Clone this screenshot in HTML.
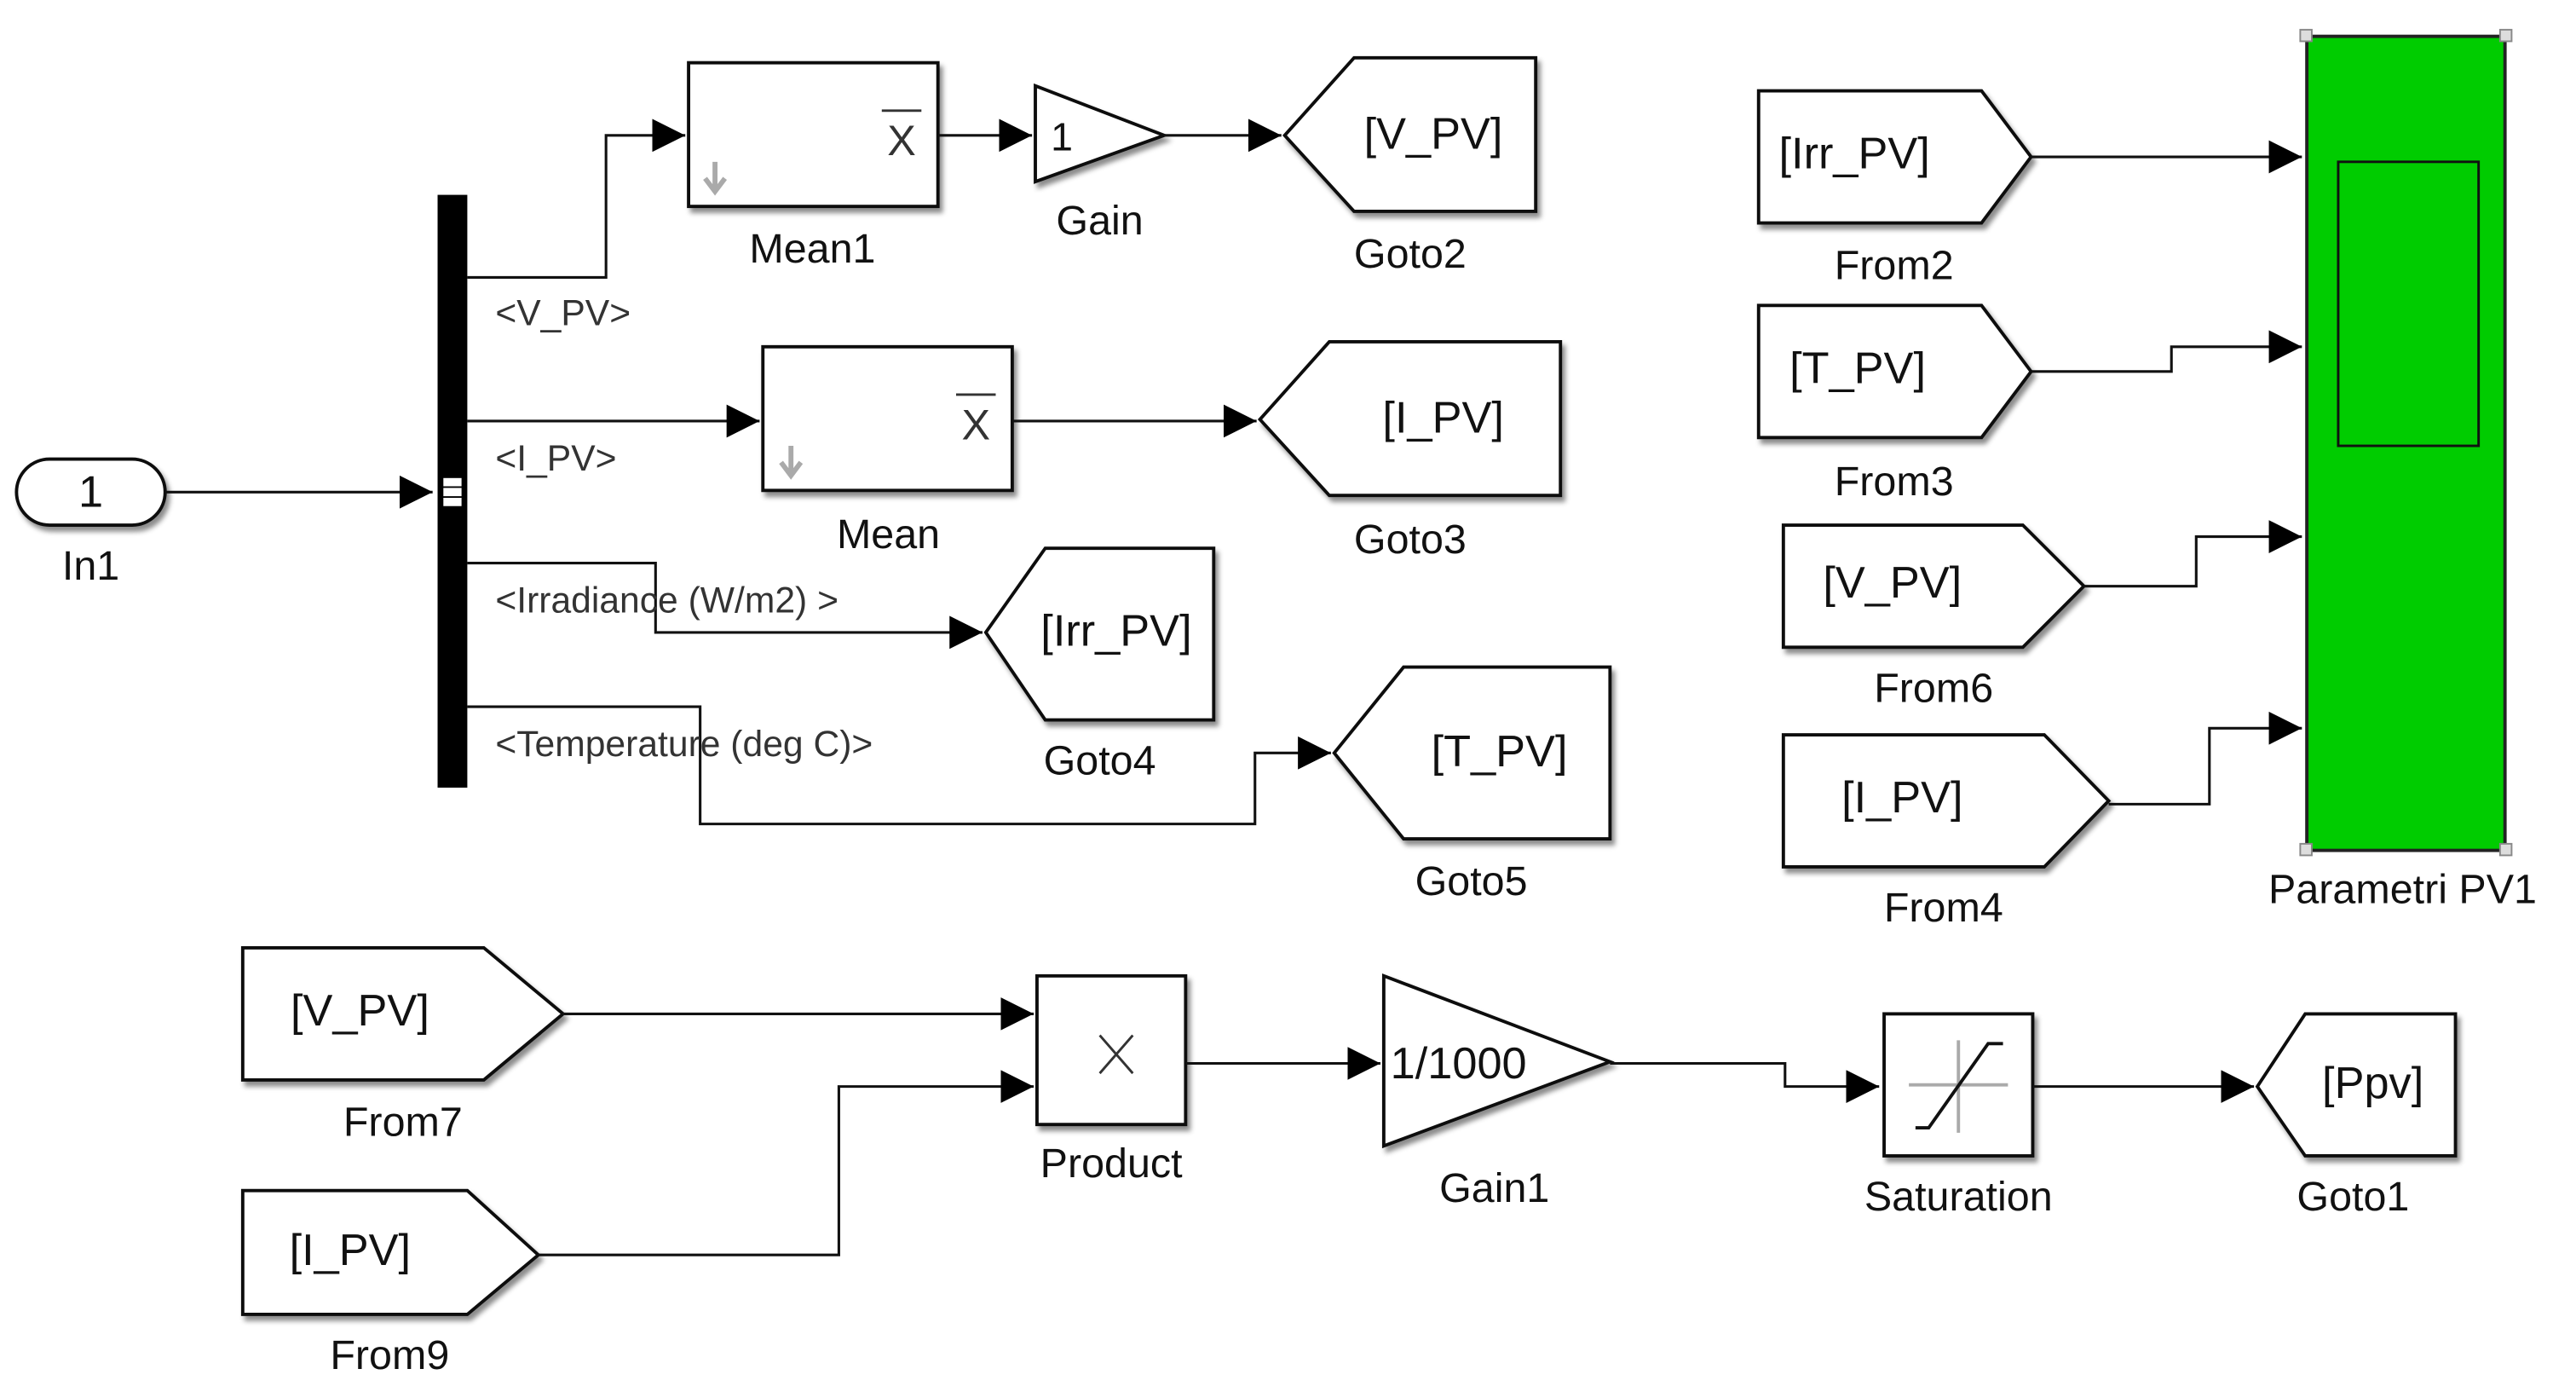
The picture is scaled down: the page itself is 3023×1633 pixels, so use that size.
<!DOCTYPE html>
<html><head><style>
html,body{margin:0;padding:0;background:#fff;}
svg{display:block;}
text{font-family:"Liberation Sans",Arial,sans-serif;fill:#111;}
.l{font-size:25px;text-anchor:middle;}
.b{font-size:27px;text-anchor:middle;}
.s{font-size:22px;fill:#333;}
.blk{fill:#fff;stroke:#111;stroke-width:2;filter:url(#sh);}
.w{fill:none;stroke:#111;stroke-width:1.6;}
</style></head><body>
<svg width="3023" height="1633" viewBox="0 0 1560 843" preserveAspectRatio="none" xmlns="http://www.w3.org/2000/svg">
<defs>
<filter id="sh" x="-10%" y="-10%" width="130%" height="130%"><feDropShadow dx="2" dy="3" stdDeviation="1.5" flood-color="#000" flood-opacity="0.45"/></filter>
<marker id="a" viewBox="0 0 10 10" refX="10" refY="5" markerWidth="20" markerHeight="20" markerUnits="userSpaceOnUse" orient="auto"><path d="M0,0 L10,5 L0,10 z" fill="#000"/></marker>
</defs>

<rect x="10" y="278" width="90" height="40" rx="20" class="blk"/>
<text x="55" y="307" class="b">1</text>
<text x="55" y="351" class="l">In1</text>
<path d="M100,298 H262" class="w" marker-end="url(#a)"/>

<rect x="265" y="118" width="18" height="359" fill="#000"/>
<rect x="268" y="289" width="12" height="18" fill="#fff" stroke="#000" stroke-width="1"/>
<path d="M268,295 H280 M268,301 H280" stroke="#000" stroke-width="1"/>

<path d="M283,168 H367 V82 H415" class="w" marker-end="url(#a)"/>
<text x="300" y="197" class="s">&lt;V_PV&gt;</text>
<rect x="417" y="38" width="151" height="87" class="blk"/>
<text x="546" y="94" class="b" style="font-size:26px;fill:#333">X</text>
<path d="M534,67 H558" stroke="#333" stroke-width="1.5"/>
<path d="M433,98 V114 M427,108 L433,116 L439,108" stroke="#aaa" stroke-width="3" fill="none"/>
<text x="492" y="159" class="l">Mean1</text>
<path d="M568,82 H625" class="w" marker-end="url(#a)"/>
<path d="M627,52 L705,82 L627,110 Z" class="blk"/>
<text x="643" y="91" class="b" style="font-size:24px">1</text>
<text x="666" y="142" class="l">Gain</text>
<path d="M705,82 H776" class="w" marker-end="url(#a)"/>
<path d="M778,82 L820,35 H930 V128 H820 Z" class="blk"/>
<text x="868" y="90" class="b">[V_PV]</text>
<text x="854" y="162" class="l">Goto2</text>

<path d="M283,255 H460" class="w" marker-end="url(#a)"/>
<text x="300" y="285" class="s">&lt;I_PV&gt;</text>
<rect x="462" y="210" width="151" height="87" class="blk"/>
<text x="591" y="266" class="b" style="font-size:26px;fill:#333">X</text>
<path d="M579,239 H603" stroke="#333" stroke-width="1.5"/>
<path d="M479,270 V286 M473,280 L479,288 L485,280" stroke="#aaa" stroke-width="3" fill="none"/>
<text x="538" y="332" class="l">Mean</text>
<path d="M613,255 H761" class="w" marker-end="url(#a)"/>
<path d="M763,254 L805,207 H945 V300 H805 Z" class="blk"/>
<text x="874" y="262" class="b">[I_PV]</text>
<text x="854" y="335" class="l">Goto3</text>

<path d="M283,341 H397 V383 H595" class="w" marker-end="url(#a)"/>
<text x="300" y="371" class="s">&lt;Irradiance (W/m2) &gt;</text>
<path d="M597,383 L633,332 H735 V436 H633 Z" class="blk"/>
<text x="676" y="391" class="b">[Irr_PV]</text>
<text x="666" y="469" class="l">Goto4</text>

<path d="M283,428 H424 V499 H760 V456 H806" class="w" marker-end="url(#a)"/>
<text x="300" y="458" class="s">&lt;Temperature (deg C)&gt;</text>
<path d="M808,456 L850,404 H975 V508 H850 Z" class="blk"/>
<text x="908" y="464" class="b">[T_PV]</text>
<text x="891" y="542" class="l">Goto5</text>

<path d="M1065,55 H1200 L1230,95 L1200,135 H1065 Z" class="blk"/>
<text x="1123" y="102" class="b">[Irr_PV]</text>
<text x="1147" y="169" class="l">From2</text>
<path d="M1230,95 H1394" class="w" marker-end="url(#a)"/>

<path d="M1065,185 H1200 L1230,225 L1200,265 H1065 Z" class="blk"/>
<text x="1125" y="232" class="b">[T_PV]</text>
<text x="1147" y="300" class="l">From3</text>
<path d="M1230,225 H1315 V210 H1394" class="w" marker-end="url(#a)"/>

<path d="M1080,318 H1225 L1262,355 L1225,392 H1080 Z" class="blk"/>
<text x="1146" y="362" class="b">[V_PV]</text>
<text x="1171" y="425" class="l">From6</text>
<path d="M1262,355 H1330 V325 H1394" class="w" marker-end="url(#a)"/>

<path d="M1080,445 H1238 L1277,485 L1238,525 H1080 Z" class="blk"/>
<text x="1152" y="492" class="b">[I_PV]</text>
<text x="1177" y="558" class="l">From4</text>
<path d="M1277,487 H1338 V441 H1394" class="w" marker-end="url(#a)"/>

<rect x="1397" y="22" width="120" height="493" fill="#00cc00" stroke="#222" stroke-width="2"/>
<rect x="1416" y="98" width="85" height="172" fill="none" stroke="#111" stroke-width="1.5"/>
<g fill="#ddd" stroke="#888" stroke-width="1"><rect x="1393" y="18" width="7" height="7"/><rect x="1514" y="18" width="7" height="7"/><rect x="1393" y="511" width="7" height="7"/><rect x="1514" y="511" width="7" height="7"/></g>
<text x="1455" y="547" class="l">Parametri PV1</text>

<path d="M147,574 H293 L341,614 L293,654 H147 Z" class="blk"/>
<text x="218" y="621" class="b">[V_PV]</text>
<text x="244" y="688" class="l">From7</text>
<path d="M147,721 H283 L326,760 L283,796 H147 Z" class="blk"/>
<text x="212" y="766" class="b">[I_PV]</text>
<text x="236" y="829" class="l">From9</text>
<path d="M341,614 H626" class="w" marker-end="url(#a)"/>
<path d="M326,760 H508 V658 H626" class="w" marker-end="url(#a)"/>
<rect x="628" y="591" width="90" height="90" class="blk"/>
<path d="M666,627 L686,650 M686,627 L666,650" stroke="#333" stroke-width="1.5"/>
<text x="673" y="713" class="l">Product</text>
<path d="M718,644 H836" class="w" marker-end="url(#a)"/>
<path d="M838,591 L975,643 L838,694 Z" class="blk"/>
<text x="842" y="653" style="font-size:27px">1/1000</text>
<text x="905" y="728" class="l">Gain1</text>
<path d="M975,644 H1081 V658 H1138" class="w" marker-end="url(#a)"/>
<rect x="1141" y="614" width="90" height="86" class="blk"/>
<path d="M1156,657 H1216 M1186,630 V686" stroke="#aaa" stroke-width="2"/>
<path d="M1160,683 H1168 L1204,632 H1213" stroke="#111" stroke-width="2" fill="none"/>
<text x="1186" y="733" class="l">Saturation</text>
<path d="M1231,658 H1365" class="w" marker-end="url(#a)"/>
<path d="M1367,658 L1396,614 H1487 V700 H1396 Z" class="blk"/>
<text x="1437" y="665" class="b">[Ppv]</text>
<text x="1425" y="733" class="l">Goto1</text>
</svg>
</body></html>
